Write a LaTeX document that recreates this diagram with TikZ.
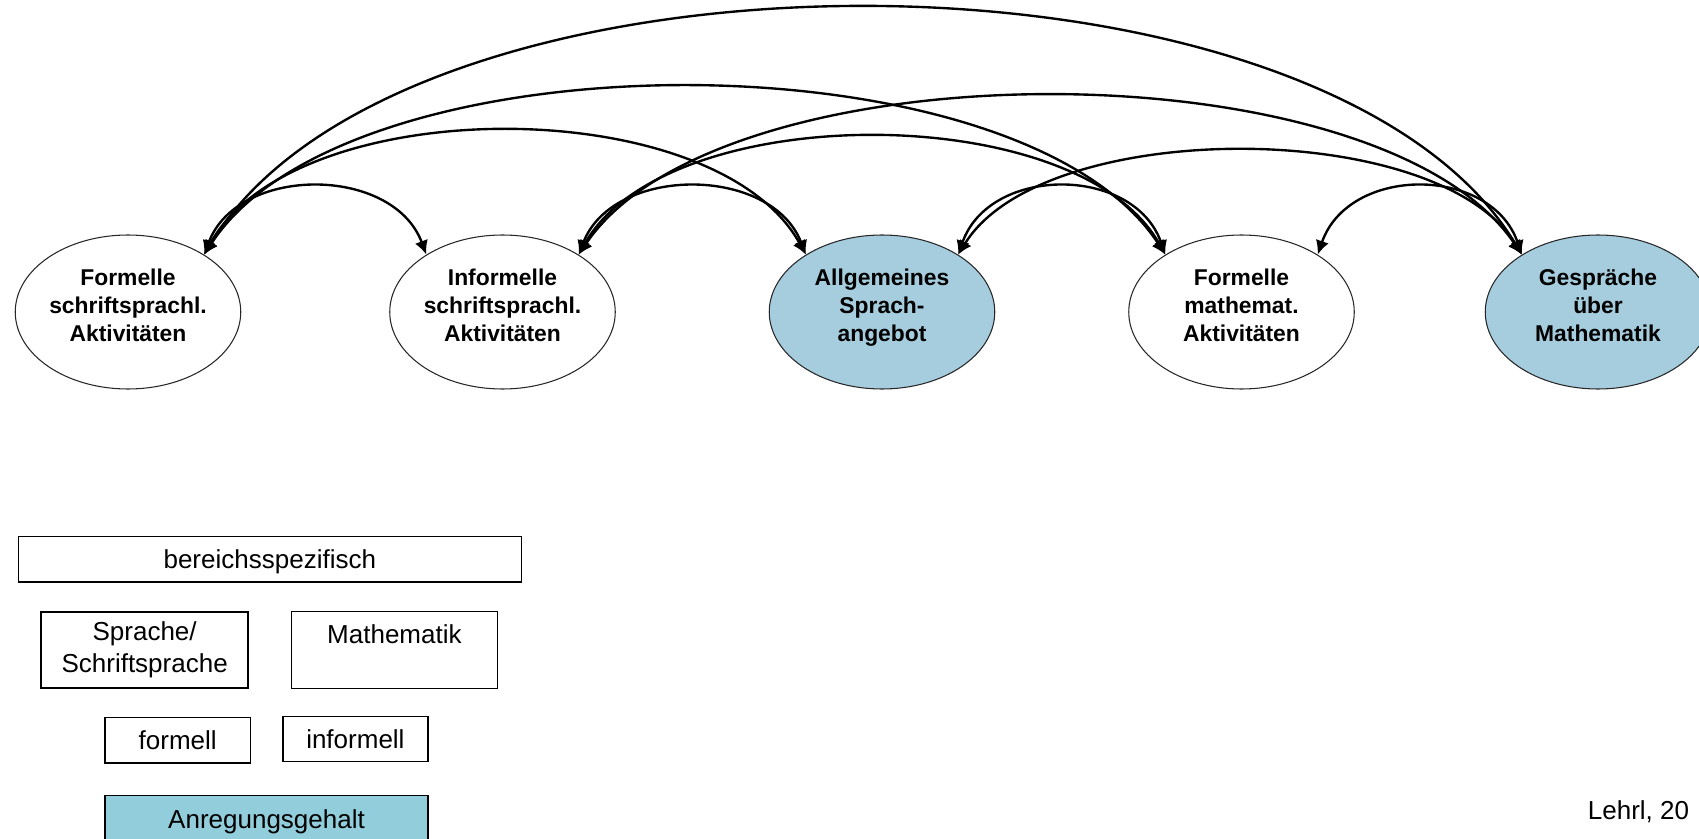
\documentclass[tikz,border=0pt]{standalone}
\usepackage{fontspec}
\setmainfont{Liberation Sans}
\usepackage{tikz}
\usetikzlibrary{shapes.geometric,arrows.meta,positioning}
\definecolor{anregblue}{RGB}{165,205,222}
\definecolor{legendblue}{RGB}{146,205,220}

\begin{document}
\begin{tikzpicture}[every node/.style={font=\fontsize{14.8}{18.5}\selectfont},
    >={Latex[length=2.8mm,width=2.7mm]},
    act/.style={ellipse, draw=black!85, line width=0.6pt, minimum width=4.51cm, minimum height=3.08cm,
        inner sep=0pt, align=center, text depth=7.5pt, font=\fontsize{13}{16}\selectfont\bfseries},
    legbox/.style={draw, line width=0.8pt, inner sep=0pt, align=center},
    legline/.style={legbox, text height=13.6pt, text depth=3pt},
    link/.style={<->, line width=1.35pt}]
    \useasboundingbox (0,0) rectangle (33.98,-16.78);

    % Activity ellipses
    \node[act] (fschrift) at (2.56,-6.24) {Formelle\\schriftsprachl.\\Aktivitäten};
    \node[act] (ischrift) at (10.05,-6.24) {Informelle\\schriftsprachl.\\Aktivitäten};
    \node[act, fill=anregblue] (sprach) at (17.64,-6.24) {Allgemeines\\Sprach-\\angebot};
    \node[act] (fmathe) at (24.83,-6.24) {Formelle\\mathemat.\\Aktivitäten};
    \node[act, fill=anregblue] (gespraech) at (31.96,-6.24) {Gespräche\\über\\Mathematik};

    % Connections between all activities
    \foreach \a/\b/\dx/\h in {fschrift/ischrift/0.67/1.79, fschrift/sprach/1.81/3.28,
        fschrift/fmathe/2.89/4.45, fschrift/gespraech/3.96/6.56,
        ischrift/sprach/0.69/1.79, ischrift/fmathe/1.76/3.12, ischrift/gespraech/2.83/4.21,
        sprach/fmathe/0.63/1.79, sprach/gespraech/1.70/2.75, fmathe/gespraech/0.62/1.79} {
        \draw[link] (\a.37) .. controls +(\dx,\h) and +(-\dx,\h) .. (\b.143);
    }

    % Legend
    \node[legline, minimum width=10.056cm, minimum height=0.91cm] (bereich) at (5.396,-11.181) {bereichsspezifisch};
    \node[legbox, minimum width=4.138cm, minimum height=1.518cm] (sprache) at (2.893,-13.0) {Sprache/\\Schriftsprache};
    \node[legbox, minimum width=4.116cm, minimum height=1.54cm] (mathe) at (7.888,-13.0) {Mathematik\\\mbox{}};
    \node[legline, minimum width=2.904cm, minimum height=0.91cm] (formell) at (3.554,-14.801) {formell};
    \node[legline, minimum width=2.904cm, minimum height=0.91cm] (informell) at (7.108,-14.779) {informell};
    \node[legline, fill=legendblue, minimum width=6.458cm, minimum height=0.954cm] (anreg) at (5.331,-16.383) {Anregungsgehalt};

    % Source
    \node[anchor=west, inner sep=0pt] (quelle) at (31.75,-16.23) {Lehrl, 20};
\end{tikzpicture}
\end{document}
